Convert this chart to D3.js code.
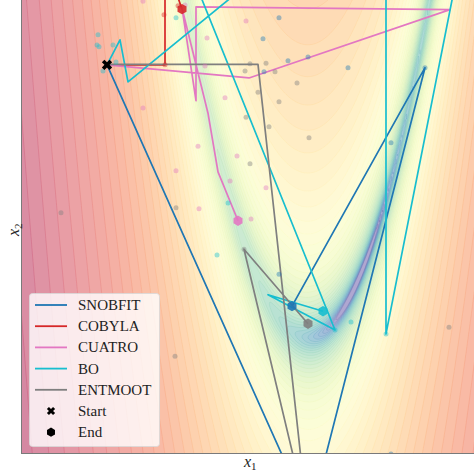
<!DOCTYPE html>
<html>
<head>
<meta charset="utf-8">
<script src="https://cdn.jsdelivr.net/npm/d3@7"></script>
<style>
  body { margin: 0; background: #fff; }
  text { font-family: "Liberation Serif", "DejaVu Serif", serif; }
</style>
</head>
<body>
<svg id="chart" width="474" height="475"></svg>
<script>
// ---- data -------------------------------------------------------------
const algorithms = ["SNOBFIT", "COBYLA", "CUATRO", "BO", "ENTMOOT"];
const algoColors = ["#1f77b4", "#d62728", "#e377c2", "#17becf", "#7f7f7f"];

const startPoint = [-4.02, 4.79];

// optimisation trajectories (x1, x2)
const pathSNOBFIT = [[-4.02, 4.79], [0.04, -3.16], [2.34, 4.74], [-0.32, 0.55]];
const pathCOBYLA  = [[-4.02, 4.79], [-2.86, 4.79], [-2.86, 6.63], [-2.52, 5.77]];
const pathCUATRO  = [[-4.02, 4.79], [-1.18, 4.56], [2.84, 5.76], [-2.24, 5.81],
                     [-2.24, 4.16], [-2.52, 5.79], [-2.00, 3.94], [-1.80, 2.91],
                     [-1.40, 2.05]];
const pathBO      = [[-4.02, 4.79], [-3.76, 5.23], [-3.60, 4.49], [-0.86, 6.46],
                     [1.56, 6.46], [1.56, 0.06], [3.00, 6.46], [-2.36, 6.46],
                     [0.54, 0.13], [-0.80, 0.75], [0.30, 0.46]];
const pathENTMOOT = [[-4.02, 4.80], [-1.00, 4.80], [-0.02, -3.10], [-1.28, 1.55],
                     [0.00, 0.24]];

// evaluated sample points
const samplesSNOBFIT = [[-0.58, 5.62], [-0.90, 5.25], [-0.40, 4.86], [0.00, 4.93],
                        [0.80, 4.74], [-0.88, 4.67], [1.66, 3.42], [1.66, -2.05],
                        [-0.58, 1.11], [2.34, 4.74]];
const samplesCOBYLA  = [[-2.88, 5.67], [-2.86, 4.79], [-2.60, 5.83]];
const samplesCUATRO  = [[-3.30, 5.91], [-1.24, 5.56], [-2.02, 5.26], [-2.06, 4.77],
                        [-1.66, 4.21], [-3.30, 4.03], [-2.20, 3.36], [-1.42, 3.19],
                        [-2.64, 2.93], [-1.56, 2.75], [-0.84, 2.63], [-2.18, 2.26],
                        [-1.14, 2.08], [-2.46, 5.84]];
const samplesBO      = [[-2.64, 5.62], [-1.60, 2.36], [-1.82, 1.45], [0.86, 0.27],
                        [-4.20, 5.32], [-4.22, 5.14], [-4.18, 5.11], [-3.90, 5.14],
                        [-3.84, 4.84], [-4.10, 4.68], [1.56, 0.06], [0.54, 0.13]];
const samplesENTMOOT = [[-1.26, 4.68], [-1.16, 4.81], [-0.84, 4.82], [-0.66, 4.67],
                        [-0.22, 4.47], [-1.00, 4.31], [-0.58, 4.14], [-1.24, 3.87],
                        [-0.78, 3.70], [0.02, 3.51], [-1.16, 3.05], [-2.64, 2.28],
                        [-4.94, 2.19], [-2.66, -0.33], [2.82, 0.18], [-1.28, 1.55]];

const paths   = [pathSNOBFIT, pathCOBYLA, pathCUATRO, pathBO, pathENTMOOT];
const samples = [samplesSNOBFIT, samplesCOBYLA, samplesCUATRO, samplesBO, samplesENTMOOT];

// objective: f = (1 - x1)^2 + b (x2 - x1^2)^2, contoured on log10 f
const rosenA = 1, rosenB = 30;
const logLevels = d3.range(-0.7, 4.75, 0.1);
const logMin = -0.72, logMax = 4.68;

// ---- layout -----------------------------------------------------------
const plot = { left: 21, right: 474, top: 0, bottom: 454 };
const x = d3.scaleLinear().domain([-5.74, 3.32]).range([plot.left, plot.right]);
const y = d3.scaleLinear().domain([-2.05, 5.93]).range([plot.bottom, plot.top]);

const svg = d3.select("#chart");
svg.append("defs").append("clipPath").attr("id", "plot-clip")
  .append("rect")
  .attr("x", plot.left).attr("y", plot.top)
  .attr("width", plot.right - plot.left).attr("height", plot.bottom - plot.top);

const g = svg.append("g").attr("clip-path", "url(#plot-clip)");

// ---- objective surface -------------------------------------------------
const objective = (a, b) => (rosenA - a) ** 2 + rosenB * (b - a * a) ** 2;

const step = 1.5;
const nx = Math.ceil((plot.right - plot.left) / step) + 2;
const ny = Math.ceil((plot.bottom - plot.top) / step) + 2;
const grid = new Float64Array(nx * ny);
for (let j = 0; j < ny; j++) {
  const v2 = y.invert(plot.top + j * step);
  for (let i = 0; i < nx; i++) {
    const v1 = x.invert(plot.left + i * step);
    grid[j * nx + i] = Math.log10(objective(v1, v2));
  }
}

const blend = c => d3.interpolateRgb("#ffffff", c)(0.5);
const cmap = v => {
  const t = Math.max(0, Math.min(1, (v - logMin) / (logMax - logMin)));
  return d3.interpolateSpectral(1 - t);
};

const toPixel = d3.geoTransform({
  point(px, py) {
    this.stream.point(plot.left + (px - 0.5) * step, plot.top + (py - 0.5) * step);
  }
});
const geo = d3.geoPath(toPixel);

const contours = d3.contours().size([nx, ny]).thresholds(logLevels)(grid);

g.append("rect")
  .attr("x", plot.left).attr("y", plot.top)
  .attr("width", plot.right - plot.left).attr("height", plot.bottom - plot.top)
  .attr("fill", blend(cmap(logLevels[0] - 0.05)));

g.append("g").selectAll("path")
  .data(contours)
  .join("path")
  .attr("d", geo)
  .attr("fill", d => blend(cmap(d.value + 0.05)))
  .attr("stroke", "none");

g.append("g").selectAll("path")
  .data(contours)
  .join("path")
  .attr("d", geo)
  .attr("fill", "none")
  .attr("stroke", d => cmap(d.value))
  .attr("stroke-opacity", 0.28)
  .attr("stroke-width", 0.7);

// ---- trajectories -----------------------------------------------------
const line = d3.line().x(d => x(d[0])).y(d => y(d[1]));

paths.forEach((p, k) => {
  g.append("path")
    .attr("d", line(p))
    .attr("fill", "none")
    .attr("stroke", algoColors[k])
    .attr("stroke-width", 1.7)
    .attr("stroke-linejoin", "round");
});

samples.forEach((s, k) => {
  g.append("g").selectAll("circle")
    .data(s)
    .join("circle")
    .attr("cx", d => x(d[0]))
    .attr("cy", d => y(d[1]))
    .attr("r", 2.5)
    .attr("fill", algoColors[k])
    .attr("fill-opacity", 0.42);
});

// end markers (hexagons)
const hexagon = r => d3.line()(d3.range(6).map(i => {
  const a = -Math.PI / 2 + i * Math.PI / 3;
  return [r * Math.cos(a), r * Math.sin(a)];
})) + "Z";

paths.forEach((p, k) => {
  const last = p[p.length - 1];
  g.append("path")
    .attr("d", hexagon(5.2))
    .attr("transform", `translate(${x(last[0])},${y(last[1])})`)
    .attr("fill", algoColors[k])
    .attr("fill-opacity", 0.9);
});

// start marker (filled X)
const crossX = d3.symbol(d3.symbolCross, 66)();
g.append("path")
  .attr("d", crossX)
  .attr("transform", `translate(${x(startPoint[0])},${y(startPoint[1])}) rotate(45)`)
  .attr("fill", "#000");

// ---- axes frame and labels -------------------------------------------
svg.append("line")
  .attr("x1", plot.left + 0.5).attr("x2", plot.left + 0.5)
  .attr("y1", plot.top).attr("y2", plot.bottom)
  .attr("stroke", "#7a7a7a").attr("stroke-width", 1);
svg.append("line")
  .attr("x1", plot.left).attr("x2", plot.right)
  .attr("y1", plot.bottom - 0.5).attr("y2", plot.bottom - 0.5)
  .attr("stroke", "#7a7a7a").attr("stroke-width", 1);

const xl = svg.append("text")
  .attr("x", 244).attr("y", 467)
  .attr("font-size", 16).attr("fill", "#222");
xl.append("tspan").attr("font-style", "italic").text("x");
xl.append("tspan").attr("font-size", 11).attr("dy", 3).text("1");

const yl = svg.append("text")
  .attr("transform", "translate(19,236) rotate(-90)")
  .attr("font-size", 16).attr("fill", "#222");
yl.append("tspan").attr("font-style", "italic").text("x");
yl.append("tspan").attr("font-size", 11).attr("dy", 3).text("2");

// ---- legend -----------------------------------------------------------
const legend = svg.append("g");
legend.append("rect")
  .attr("x", 29.5).attr("y", 293.5).attr("width", 130).attr("height", 153)
  .attr("rx", 3)
  .attr("fill", "#ffffff").attr("fill-opacity", 0.8)
  .attr("stroke", "#d8d8d8").attr("stroke-opacity", 0.8);

const rowY = i => 305 + i * 21.2;
algorithms.forEach((name, i) => {
  legend.append("line")
    .attr("x1", 35).attr("x2", 67)
    .attr("y1", rowY(i)).attr("y2", rowY(i))
    .attr("stroke", algoColors[i]).attr("stroke-width", 1.8);
  legend.append("text")
    .attr("x", 78).attr("y", rowY(i) + 5)
    .attr("font-size", 15).attr("fill", "#222")
    .text(name);
});
legend.append("path")
  .attr("d", d3.symbol(d3.symbolCross, 42)())
  .attr("transform", `translate(51,${rowY(5)}) rotate(45)`)
  .attr("fill", "#000");
legend.append("text")
  .attr("x", 78).attr("y", rowY(5) + 5)
  .attr("font-size", 15).attr("fill", "#222").text("Start");
legend.append("path")
  .attr("d", hexagon(4.6))
  .attr("transform", `translate(51,${rowY(6)})`)
  .attr("fill", "#000");
legend.append("text")
  .attr("x", 78).attr("y", rowY(6) + 5)
  .attr("font-size", 15).attr("fill", "#222").text("End");
</script>
</body>
</html>
